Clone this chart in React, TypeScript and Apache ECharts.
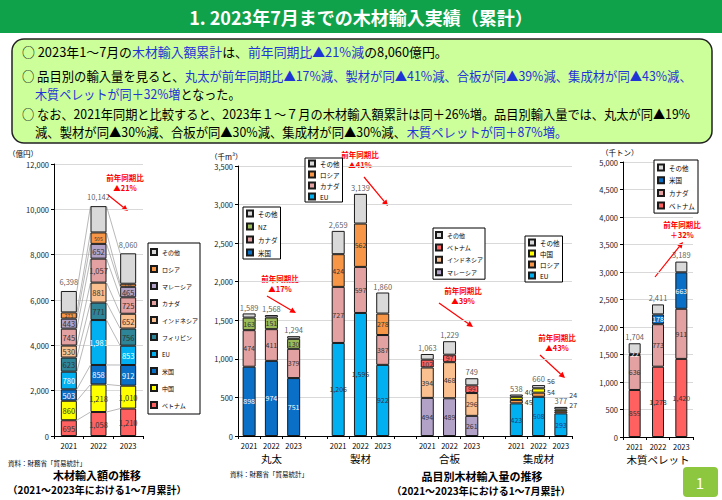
import React, { useEffect, useRef } from 'react';
import * as echarts from 'echarts';

const FONT = '"Noto Sans CJK JP", "Noto Sans", sans-serif';

// ---------- Data ----------
const years = ['2021', '2022', '2023'];

// 木材輸入額 (億円)
const valVietnam = [695, 1058, 1210];
const valChina = [860, 1218, 1010];
const valUS = [503, 858, 912];
const valEU = [780, 1981, 853];
const valPhilippines = [623, 771, 756];
const valIndonesia = [530, 881, 652];
const valCanada = [745, 1057, 725];
const valMalaysia = [443, 652, 465];
const valRussia = [273, 505, 135];
const valOther = [946, 1161, 1342];
const valTotal = [6398, 10142, 8060];

// 品目別木材輸入量 (千m3)
const groups = ['丸太', '製材', '合板', '集成材'];
const logUS = [898, 974, 751];
const logCanada = [474, 411, 379];
const logNZ = [163, 151, 130];
const logOther = [54, 32, 34];
const logTotal = [1589, 1568, 1294];

const lumberEU = [1206, 1595, 922];
const lumberCanada = [727, 597, 387];
const lumberRussia = [424, 562, 278];
const lumberOther = [302, 385, 273];
const lumberTotal = [2659, 3139, 1860];

const plyMalaysia = [494, 489, 261];
const plyIndonesia = [394, 468, 296];
const plyVietnam = [102, 97, 99];
const plyOther = [73, 175, 93];
const plyTotal = [1063, 1229, 749];

const glulamEU = [423, 508, 293];
const glulamRussia = [45, 54, 27];
const glulamChina = [40, 56, 24];
const glulamOther = [30, 42, 33];
const glulamTotal = [538, 660, 377];

// 木質ペレット (千トン)
const pelletVietnam = [855, 1278, 1420];
const pelletCanada = [636, 773, 911];
const pelletUS = [22, 178, 663];
const pelletOther = [191, 182, 195];
const pelletTotal = [1704, 2411, 3189];

// ---------- Styles ----------
const C = {
  vietnam: '#FF6161',
  china: '#FFFF00',
  us: '#0A6FC6',
  eu: '#00B0F0',
  philippines: '#2E8598',
  indonesia: '#FAC090',
  canada: '#E3A1A1',
  malaysia: '#B3A2C7',
  russia: '#F79646',
  other: '#D9D9D9',
  nz: '#9BBB59',
};
const BLUE = '#1F35D6';
const RED = '#FF0000';
const glulamRussiaOffset = [0, -3, -7];
const glulamChinaOffset = [-6, -9, -15];

const fmt = (v: any) => (v == null || v === '' || isNaN(Number(v)) ? '' : Number(v).toLocaleString('en-US'));

// middle categories
const midKeys: string[] = [];
groups.forEach((g, gi) => {
  years.forEach((y) => midKeys.push(g + '|' + y));
  if (gi < groups.length - 1) midKeys.push('gap' + gi);
});
const placeGroup = (gi: number, arr: number[]) => {
  const out: (number | null)[] = midKeys.map(() => null);
  arr.forEach((v, j) => (out[gi * 4 + j] = v));
  return out;
};

function arrow(x1: number, y1: number, x2: number, y2: number) {
  const ang = Math.atan2(y2 - y1, x2 - x1);
  const L = 6, W = 3;
  const bx = x2 - L * Math.cos(ang), by = y2 - L * Math.sin(ang);
  const px = -Math.sin(ang) * W, py = Math.cos(ang) * W;
  return [
    { type: 'line', shape: { x1, y1, x2: bx, y2: by }, style: { stroke: RED, lineWidth: 1.2 }, silent: true },
    { type: 'polygon', shape: { points: [[x2, y2], [bx + px, by + py], [bx - px, by - py]] }, style: { fill: RED }, silent: true },
  ];
}

function txt(x: number, y: number, text: string, size: number, opts: any = {}) {
  return {
    type: 'text', x, y, silent: true,
    style: {
      text, fontSize: size, fontFamily: FONT, fill: opts.fill || '#000', fontWeight: opts.bold ? 'bold' : 'normal',
      align: opts.align || 'left', verticalAlign: 'middle', lineHeight: opts.lineHeight,
    },
  };
}

function richLine(x: number, y: number, sx: number, parts: [string, string][]) {
  return {
    type: 'text', x, y, scaleX: sx, silent: true,
    style: {
      text: parts.map(([k, s]) => '{' + k + '|' + s + '}').join(''),
      verticalAlign: 'middle',
      rich: {
        n: { fill: '#000', fontSize: 13, fontFamily: FONT },
        b: { fill: BLUE, fontSize: 13, fontFamily: FONT },
      },
    },
  };
}

function annot(cx: number, y: number, l1: string, l2: string) {
  return {
    type: 'text', x: cx, y, silent: true,
    style: {
      text: l1 + '\n' + l2, fontSize: 7.5, fontWeight: 'bold', fontFamily: FONT, fill: RED,
      align: 'center', verticalAlign: 'top', lineHeight: 9.5,
    },
  };
}

function buildOption() {
  const barBase = { type: 'bar', stack: '', itemStyle: { borderColor: '#1a1a1a', borderWidth: 1 } };

  // Left chart
  const leftSpec: any[] = [
    { name: '額|ベトナム', data: valVietnam, color: C.vietnam },
    { name: '額|中国', data: valChina, color: C.china },
    { name: '額|米国', data: valUS, color: C.us, lc: '#fff' },
    { name: '額|EU', data: valEU, color: C.eu, lc: '#fff' },
    { name: '額|フィリピン', data: valPhilippines, color: C.philippines },
    { name: '額|インドネシア', data: valIndonesia, color: C.indonesia },
    { name: '額|カナダ', data: valCanada, color: C.canada },
    { name: '額|マレーシア', data: valMalaysia, color: C.malaysia },
    { name: '額|ロシア', data: valRussia, color: C.russia, fs: 5 },
    { name: '額|その他', data: valOther, color: C.other, noLabel: true },
  ];
  const leftSeries = leftSpec.map((s) => ({
    ...barBase, name: s.name, stack: 'val', xAxisIndex: 0, yAxisIndex: 0, barWidth: 16, data: s.data,
    itemStyle: { color: s.color, borderColor: '#1a1a1a', borderWidth: 1 },
    label: { show: !s.noLabel, position: 'inside', fontSize: s.fs || 7.5, lineHeight: s.fs || 9, color: s.lc || '#333', formatter: (p: any) => fmt(p.value) },
  }));
  const cum = years.map((_, i) => {
    let acc = 0;
    return leftSpec.map((s) => (acc += s.data[i]));
  });
  const linkSeries = {
    type: 'custom', xAxisIndex: 0, yAxisIndex: 0, silent: true, z: 1,
    data: [[0, 0], [1, 0]], encode: { x: 0, y: 1 },
    renderItem: (params: any, api: any) => {
      const i = api.value(0);
      const children = cum[i].map((v: number, k: number) => {
        const p1 = api.coord([i, v]);
        const p2 = api.coord([i + 1, cum[i + 1][k]]);
        return { type: 'line', shape: { x1: p1[0] + 8, y1: p1[1], x2: p2[0] - 8, y2: p2[1] }, style: { stroke: '#A6A6A6', lineWidth: 0.8 } };
      });
      return { type: 'group', children };
    },
  };

  // Middle chart
  const midSpec: any[] = [
    { name: '丸太|米国', g: 0, data: logUS, color: C.us, lc: '#fff' },
    { name: '丸太|カナダ', g: 0, data: logCanada, color: C.canada },
    { name: '丸太|NZ', g: 0, data: logNZ, color: C.nz },
    { name: '丸太|その他', g: 0, data: logOther, color: C.other, noLabel: true },
    { name: '製材|EU', g: 1, data: lumberEU, color: C.eu },
    { name: '製材|カナダ', g: 1, data: lumberCanada, color: C.canada },
    { name: '製材|ロシア', g: 1, data: lumberRussia, color: C.russia },
    { name: '製材|その他', g: 1, data: lumberOther, color: C.other, noLabel: true },
    { name: '合板|マレーシア', g: 2, data: plyMalaysia, color: C.malaysia },
    { name: '合板|インドネシア', g: 2, data: plyIndonesia, color: C.indonesia },
    { name: '合板|ベトナム', g: 2, data: plyVietnam, color: C.vietnam },
    { name: '合板|その他', g: 2, data: plyOther, color: C.other, noLabel: true },
    { name: '集成材|EU', g: 3, data: glulamEU, color: C.eu, lc: '#1a3a80' },
    { name: '集成材|ロシア', g: 3, data: glulamRussia, color: C.russia, side: glulamRussiaOffset },
    { name: '集成材|中国', g: 3, data: glulamChina, color: C.china, side: glulamChinaOffset },
    { name: '集成材|その他', g: 3, data: glulamOther, color: C.other, noLabel: true },
  ];
  const midSeries = midSpec.map((s) => {
    const placed = placeGroup(s.g, s.data);
    const data = s.side
      ? placed.map((v, idx) => (v == null ? null : { value: v, label: { offset: [0, s.side[idx - s.g * 4]] } }))
      : placed;
    return {
      ...barBase, name: s.name, stack: 'mid', xAxisIndex: 1, yAxisIndex: 1, barWidth: 13, data,
      itemStyle: { color: s.color, borderColor: '#1a1a1a', borderWidth: 1 },
      label: {
        show: !s.noLabel, position: s.side ? 'right' : 'inside', distance: 2, fontSize: 7,
        color: s.lc || '#333', formatter: (p: any) => fmt(p.value),
      },
    };
  });
  const midTotals = midKeys.map(() => null as number | null);
  [logTotal, lumberTotal, plyTotal, glulamTotal].forEach((arr, gi) => arr.forEach((v, j) => (midTotals[gi * 4 + j] = v)));

  // Right chart
  const rightSpec = [
    { name: 'P|ベトナム', data: pelletVietnam, color: C.vietnam },
    { name: 'P|カナダ', data: pelletCanada, color: C.canada },
    { name: 'P|米国', data: pelletUS, color: C.us, lc: '#fff' },
    { name: 'P|その他', data: pelletOther, color: C.other, noLabel: true },
  ];
  const rightSeries = rightSpec.map((s) => ({
    ...barBase, name: s.name, stack: 'pel', xAxisIndex: 3, yAxisIndex: 2, barWidth: 12, data: s.data,
    itemStyle: { color: s.color, borderColor: '#1a1a1a', borderWidth: 1 },
    label: { show: !s.noLabel, position: 'inside', fontSize: 7, color: s.lc || '#333', formatter: (p: any) => fmt(p.value) },
  }));

  const totalSeries = (xi: number, yi: number, data: any[], dist: number) => ({
    type: 'scatter', xAxisIndex: xi, yAxisIndex: yi, data, symbolSize: 1, silent: true, z: 5,
    itemStyle: { color: 'rgba(0,0,0,0)' },
    label: { show: true, position: 'top', distance: dist, fontSize: 7.5, color: '#333', formatter: (p: any) => fmt(p.value) },
  });

  const legendBase = {
    orient: 'vertical', selectedMode: false, borderColor: '#000', borderWidth: 1, backgroundColor: '#fff',
    itemWidth: 6, itemHeight: 6, icon: 'rect',
    formatter: (n: string) => n.split('|').pop(),
    textStyle: { fontSize: 6.5, color: '#000', fontFamily: FONT, lineHeight: 8 },
  };

  const catAxis = (gridIndex: number, data: string[], extra: any = {}) => ({
    type: 'category', gridIndex, data,
    axisLine: { show: true, lineStyle: { color: '#000', width: 1 } },
    axisTick: { show: true, length: 3, lineStyle: { color: '#000' } },
    axisLabel: { fontSize: 7.5, color: '#000', margin: 6, interval: 0, fontFamily: FONT },
    ...extra,
  });
  const groupAxis = (gridIndex: number, data: string[], f: (v: string) => string) => ({
    type: 'category', gridIndex, data, position: 'bottom', offset: 14,
    axisLine: { show: false }, axisTick: { show: false },
    axisLabel: { fontSize: 10.5, color: '#000', margin: 3, interval: 0, formatter: f, fontFamily: FONT },
  });
  const valAxis = (gridIndex: number, max: number, interval: number) => ({
    type: 'value', gridIndex, min: 0, max, interval,
    axisLine: { show: true, lineStyle: { color: '#000', width: 1 } },
    axisTick: { show: true, length: 3, lineStyle: { color: '#000' } },
    axisLabel: { fontSize: 7.5, color: '#222', margin: 5, formatter: (v: number) => fmt(v), fontFamily: FONT },
    splitLine: { show: true, lineStyle: { color: '#D9D9D9', width: 1 } },
  });

  const graphic: any[] = [
    { type: 'rect', shape: { x: 0, y: 0, width: 722, height: 33 }, style: { fill: '#10A24A' }, silent: true },
    txt(361, 17, '1. 2023年7月までの木材輸入実績（累計）', 18, { fill: '#fff', bold: true, align: 'center' }),
    { type: 'rect', shape: { x: 12, y: 39, width: 700, height: 104, r: 12 }, style: { fill: '#CCFF99', stroke: '#222', lineWidth: 1.5 }, silent: true },
    richLine(22, 51, 0.99, [['n', '○ 2023年1～7月の'], ['b', '木材輸入額累計'], ['n', 'は、'], ['b', '前年同期比▲21%減'], ['n', 'の8,060億円。']]),
    richLine(22, 75, 0.95, [['n', '○ 品目別の輸入量を見ると、'], ['b', '丸太が前年同期比▲17%減、製材が同▲41%減、合板が同▲39%減、集成材が同▲43%減、']]),
    richLine(35, 93, 0.93, [['b', '木質ペレットが同＋32%増'], ['n', 'となった。']]),
    richLine(22, 113, 0.94, [['n', '○ なお、2021年同期と比較すると、2023年１～７月の木材輸入額累計は同＋26%増。品目別輸入量では、丸太が同▲19%']]),
    richLine(35, 131, 0.95, [['n', '減、製材が同▲30%減、合板が同▲30%減、集成材が同▲30%減、'], ['b', '木質ペレットが同＋87%増。']]),
    // units
    txt(8, 153, '（億円）', 7.5),
    txt(210, 156, '（千m³）', 7.5),
    txt(601, 152, '（千トン）', 7.5),
    // sources & titles
    txt(8, 463, '資料：財務省「貿易統計」', 6.5),
    txt(97, 474.5, '木材輸入額の推移', 11, { bold: true, align: 'center' }),
    txt(97, 489.5, '（2021～2023年における1～7月累計）', 10, { bold: true, align: 'center' }),
    txt(230, 474, '資料：財務省「貿易統計」', 6.5),
    txt(482, 475.5, '品目別木材輸入量の推移', 11, { bold: true, align: 'center' }),
    txt(481, 490.5, '（2021～2023年における1～7月累計）', 10, { bold: true, align: 'center' }),
    // annotations
    annot(125, 173, '前年同期比', '▲21%'),
    ...arrow(108, 195, 128, 211),
    annot(280, 274, '前年同期比', '▲17%'),
    ...arrow(267, 296, 296, 313),
    annot(360, 150, '前年同期比', '▲41%'),
    ...arrow(364, 177, 388, 206),
    annot(463, 286, '前年同期比', '▲39%'),
    ...arrow(439, 303, 473, 327),
    annot(557, 333, '前年同期比', '▲43%'),
    ...arrow(540, 355, 565, 378),
    annot(682, 220, '前年同期比', '＋32%'),
    ...arrow(655, 277, 683, 242),
    // page number
    { type: 'rect', shape: { x: 683, y: 467, width: 35, height: 30, r: 4 }, style: { fill: '#8DC63F' }, silent: true },
    txt(700, 482, '1', 15, { fill: '#fff', align: 'center' }),
  ];

  return {
    animation: false,
    backgroundColor: '#fff',
    textStyle: { fontFamily: FONT },
    grid: [
      { left: 54, top: 164, width: 89, height: 272 },
      { left: 238, top: 166, width: 334, height: 270 },
      { left: 623, top: 162, width: 70, height: 275 },
    ],
    xAxis: [
      catAxis(0, years),
      catAxis(1, midKeys, { axisLabel: { fontSize: 7.5, color: '#000', margin: 6, interval: 0, fontFamily: FONT, formatter: (k: string) => (k.indexOf('|') >= 0 ? k.split('|')[1] : '') } }),
      groupAxis(1, midKeys, (k: string) => {
        const [g, y] = k.split('|');
        return y === '2022' ? g : '';
      }),
      catAxis(2, years),
      groupAxis(2, years, (y: string) => (y === '2022' ? '木質ペレット' : '')),
    ],
    yAxis: [valAxis(0, 12000, 2000), valAxis(1, 3500, 500), valAxis(2, 5000, 500)],
    legend: [
      { ...legendBase, left: 148, top: 243, padding: [4, 2], itemGap: 7, textStyle: { ...legendBase.textStyle, fontSize: 6, lineHeight: 10 },
        data: ['額|その他', '額|ロシア', '額|マレーシア', '額|カナダ', '額|インドネシア', '額|フィリピン', '額|EU', '額|米国', '額|中国', '額|ベトナム'] },
      { ...legendBase, left: 243, top: 207, padding: [2.5, 3], itemGap: 5, data: ['丸太|その他', '丸太|NZ', '丸太|カナダ', '丸太|米国'] },
      { ...legendBase, left: 305, top: 158, padding: [1.5, 3], itemGap: 3, data: ['製材|その他', '製材|ロシア', '製材|カナダ', '製材|EU'] },
      { ...legendBase, left: 433, top: 228, padding: [3, 2], itemGap: 4.4, textStyle: { ...legendBase.textStyle, fontSize: 6 },
        data: ['合板|その他', '合板|ベトナム', '合板|インドネシア', '合板|マレーシア'] },
      { ...legendBase, left: 525, top: 236, padding: [2.5, 3], itemGap: 3, data: ['集成材|その他', '集成材|中国', '集成材|ロシア', '集成材|EU'] },
      { ...legendBase, left: 654, top: 160, padding: [3.5, 3], itemGap: 4.7, data: ['P|その他', 'P|米国', 'P|カナダ', 'P|ベトナム'] },
    ],
    series: [
      linkSeries,
      ...leftSeries,
      totalSeries(0, 0, valTotal, 5),
      ...midSeries,
      totalSeries(1, 1, midTotals, 2),
      ...rightSeries,
      totalSeries(3, 2, pelletTotal, 3),
    ],
    graphic,
  };
}

export default function App() {
  const ref = useRef<HTMLDivElement>(null);
  useEffect(() => {
    document.body.style.margin = '0';
    const chart = echarts.init(ref.current as HTMLDivElement, null, { renderer: 'svg' });
    chart.setOption(buildOption() as any);
    return () => chart.dispose();
  }, []);
  return <div ref={ref} style={{ width: 722, height: 500 }} />;
}
